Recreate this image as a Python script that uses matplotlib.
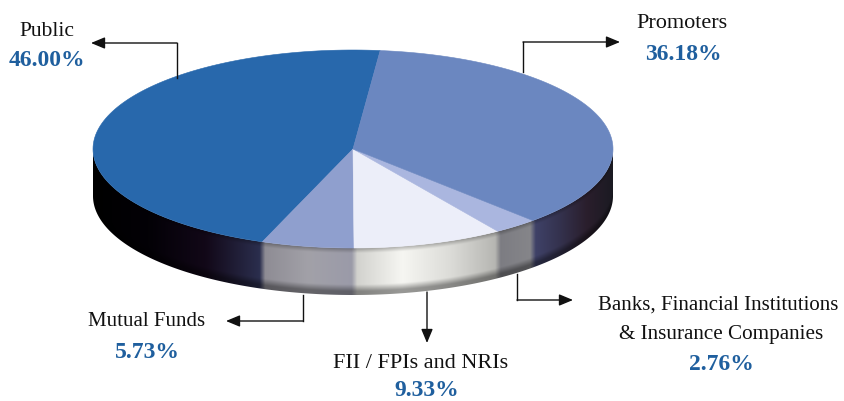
import matplotlib
matplotlib.use('Agg')
import matplotlib.pyplot as plt
import numpy as np
from matplotlib.colors import to_rgb
from matplotlib.patches import Polygon

# order is anticlockwise from the Public/Promoters boundary
names = ['Public', 'Mutual Funds', 'FII / FPIs and NRIs', 'Banks', 'Promoters']
shares = [46.00, 5.73, 9.33, 2.76, 36.18]
top_colors = ['#2868ac', '#8f9fce', '#eceef9', '#aab6df', '#6b87c0']

# side colours, left to right across each slice
side_colors = [
    ['#000000', '#030106', '#120818', '#2c3050'],
    ['#8d8b93', '#a2a1a8', '#9a9aa8'],
    ['#d0d0cc', '#f6f6f2', '#dcdcd8', '#b4b4b0'],
    ['#7c7c82', '#86868a'],
    ['#40436a', '#34324e', '#2a1e2c', '#1a1a22'],
]

cx, cy = 353, 149
rx, ry = 260, 99
depth = 47
start = 84.0

fig = plt.figure(figsize=(8.45, 4.01), dpi=100)
ax = fig.add_axes([0, 0, 1, 1])
ax.set_xlim(0, 845)
ax.set_ylim(401, 0)
ax.axis('off')

# slice edges in degrees, going anticlockwise
edges = start + np.cumsum([0] + shares) * 3.6


def rim(deg):
    a = np.radians(deg)
    return cx + rx * np.cos(a), cy - ry * np.sin(a)


# side colour per pixel column
xs = np.arange(cx - rx, cx + rx + 1, 0.5)
col = np.ones((len(xs), 3))
ang = np.degrees(np.arccos(np.clip((xs - cx) / rx, -1, 1)))
ang = 360 - ang  # front half of the ellipse
ang = np.where(ang < edges[0], ang + 360, ang)
for i in range(5):
    lo, hi = edges[i], edges[i + 1]
    m = (ang >= lo) & (ang <= hi)
    if not m.any():
        continue
    f = (xs[m] - xs[m].min()) / max(xs[m].max() - xs[m].min(), 1)
    stops = np.array([to_rgb(c) for c in side_colors[i]])
    pos = np.linspace(0, 1, len(stops))
    for k in range(3):
        col[m, k] = np.interp(f, pos, stops[:, k])
kernel = np.ones(11) / 11
for k in range(3):
    col[:, k] = np.convolve(np.pad(col[:, k], 5, mode='edge'), kernel, mode='valid')

# vertical shading, darker along the top and bottom of the band
ys = np.arange(cy, cy + ry + depth + 2, 0.5)
xx, yy = np.meshgrid(xs, ys)
y_top = cy + ry * np.sqrt(np.clip(1 - ((xx - cx) / rx) ** 2, 0, 1))
v = np.clip((yy - y_top) / depth, 0, 1)
shade = 0.62 + 0.38 * np.clip(np.sin(np.pi * np.clip(v * 1.05 + 0.02, 0, 1)) * 2.2, 0, 1)
img = col[None, :, :] * shade[:, :, None]

front = np.linspace(180, 360, 300)
fx, fy = rim(front)
side_outline = np.r_[np.c_[fx, fy + depth], np.c_[fx[::-1], fy[::-1]]]
im = ax.imshow(img, extent=(xs[0], xs[-1], ys[-1], ys[0]), aspect='auto',
               interpolation='bilinear', zorder=1)
im.set_clip_path(Polygon(side_outline, transform=ax.transData))
ax.set_xlim(0, 845)
ax.set_ylim(401, 0)

# top face
for i in range(5):
    t = np.linspace(edges[i], edges[i + 1], 120)
    x, y = rim(t)
    pts = np.r_[[[cx, cy]], np.c_[x, y]]
    ax.add_patch(Polygon(pts, closed=True, facecolor=top_colors[i],
                         edgecolor=top_colors[i], linewidth=0.4, zorder=2))

# leader lines: elbow path, last point is the arrow tip
leaders = [
    [(177, 78), (177, 43), (91, 43)],
    [(523, 72), (523, 42), (620, 42)],
    [(303, 295), (303, 321), (226, 321)],
    [(427, 292), (427, 343)],
    [(517, 274), (517, 300), (573, 300)],
]
for path in leaders:
    p = np.array(path)
    ax.plot(p[:-1, 0], p[:-1, 1], color='#111111', lw=1.0, zorder=3,
            solid_joinstyle='miter')
    ax.annotate('', xy=p[-1], xytext=p[-2], zorder=3,
                arrowprops=dict(arrowstyle='-|>,head_length=0.6,head_width=0.25',
                                color='#111111', lw=1.0,
                                mutation_scale=14, shrinkA=0, shrinkB=0))

labels = [
    ('Public', 47, 31, 15.5),
    ('Promoters', 682, 24, 16),
    ('Mutual Funds', 147, 321, 15),
    ('FII / FPIs and NRIs', 421, 364, 16),
    ('Banks, Financial Institutions', 718, 305, 15),
    ('& Insurance Companies', 721, 335, 15.2),
]
for s, x, y, size in labels:
    ax.text(x, y, s, family='Liberation Serif', fontsize=size, color='#111111',
            ha='center', va='center')

pct_labels = [
    ('46.00%', 47, 60),
    ('36.18%', 683, 55),
    ('5.73%', 147, 352),
    ('9.33%', 427, 390),
    ('2.76%', 721, 364),
]
for s, x, y in pct_labels:
    ax.text(x, y, s, family='Liberation Serif', fontsize=17, weight='bold',
            color='#1f5f9e', ha='center', va='center')

fig.savefig('out.png', dpi=100)
